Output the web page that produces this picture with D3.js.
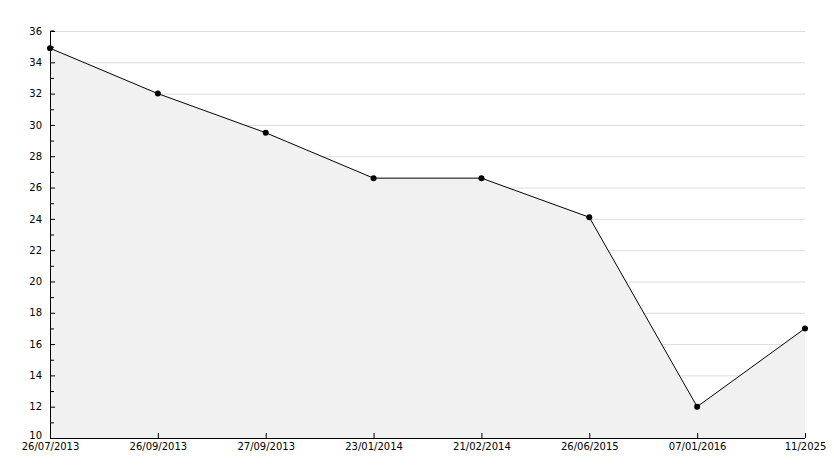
<!DOCTYPE html>
<html><head><meta charset="utf-8">
<script src="https://cdn.jsdelivr.net/npm/d3@7"></script>
<style>body{margin:0;background:#fff}text{font-family:"DejaVu Sans",sans-serif;font-size:10px}</style>
</head><body>
<script>
var categories = ["26/07/2013","26/09/2013","27/09/2013","23/01/2014","21/02/2014","26/06/2015","07/01/2016","11/2025"];
var values = [34.9, 32, 29.5, 26.6, 26.6, 24.1, 12, 17];
var yTicks = [10,12,14,16,18,20,22,24,26,28,30,32,34,36];

var margin = {top: 31, right: 29, bottom: 30, left: 50},
    width = 834 - margin.left - margin.right,
    height = 468 - margin.top - margin.bottom;

var svg = d3.select("body").append("svg").attr("width", 834).attr("height", 468)
    .append("g").attr("transform", "translate(" + margin.left + "," + margin.top + ")");

var x = d3.scalePoint().domain(categories).range([0, width]);
var y = d3.scaleLinear().domain([10, 36]).range([height, 0]);

// grid
svg.selectAll(".grid").data(yTicks.slice(1)).enter().append("line")
    .attr("x1", 0).attr("x2", width)
    .attr("y1", d => y(d) + 0.5).attr("y2", d => y(d) + 0.5)
    .attr("stroke", "#dcdcdc");

// area
var pts = categories.map((c, i) => [c, values[i]]);
svg.append("path").datum(pts)
    .attr("fill", "#f1f1f1")
    .attr("d", d3.area().x(d => x(d[0])).y0(height).y1(d => y(d[1])));
svg.append("path").datum(pts)
    .attr("fill", "none").attr("stroke", "#000")
    .attr("d", d3.line().x(d => x(d[0])).y(d => y(d[1])));
svg.selectAll(".pt").data(pts).enter().append("circle")
    .attr("cx", d => x(d[0])).attr("cy", d => y(d[1])).attr("r", 3).attr("fill", "#000");

// y axis
var yAx = svg.append("g").call(d3.axisLeft(y).tickValues(yTicks).tickSize(5).tickFormat(d3.format("d")));
yAx.select(".domain").attr("d", "M0.5," + height + "V0H4");
yAx.selectAll("text").attr("fill", "#000").attr("x", -8)
    .attr("dy", d => d === 10 ? "0" : "0.32em");
svg.append("g").selectAll("line").data(d3.range(11, 36, 2)).enter().append("line")
    .attr("x1", 0).attr("x2", 4).attr("y1", d => y(d) + 0.5).attr("y2", d => y(d) + 0.5)
    .attr("stroke", "#000");
yAx.selectAll(".tick line").attr("x1", 5).attr("x2", 0);

// x axis
var xAx = svg.append("g").attr("transform", "translate(0," + height + ")")
    .call(d3.axisBottom(x).tickSize(0).tickPadding(5));
xAx.select(".domain").attr("d", "M0,0.5H" + width);
xAx.selectAll(".tick").append("line").attr("y1", 0).attr("y2", -5).attr("stroke", "#000");
xAx.selectAll("text").attr("fill", "#000");
</script>
</body></html>
